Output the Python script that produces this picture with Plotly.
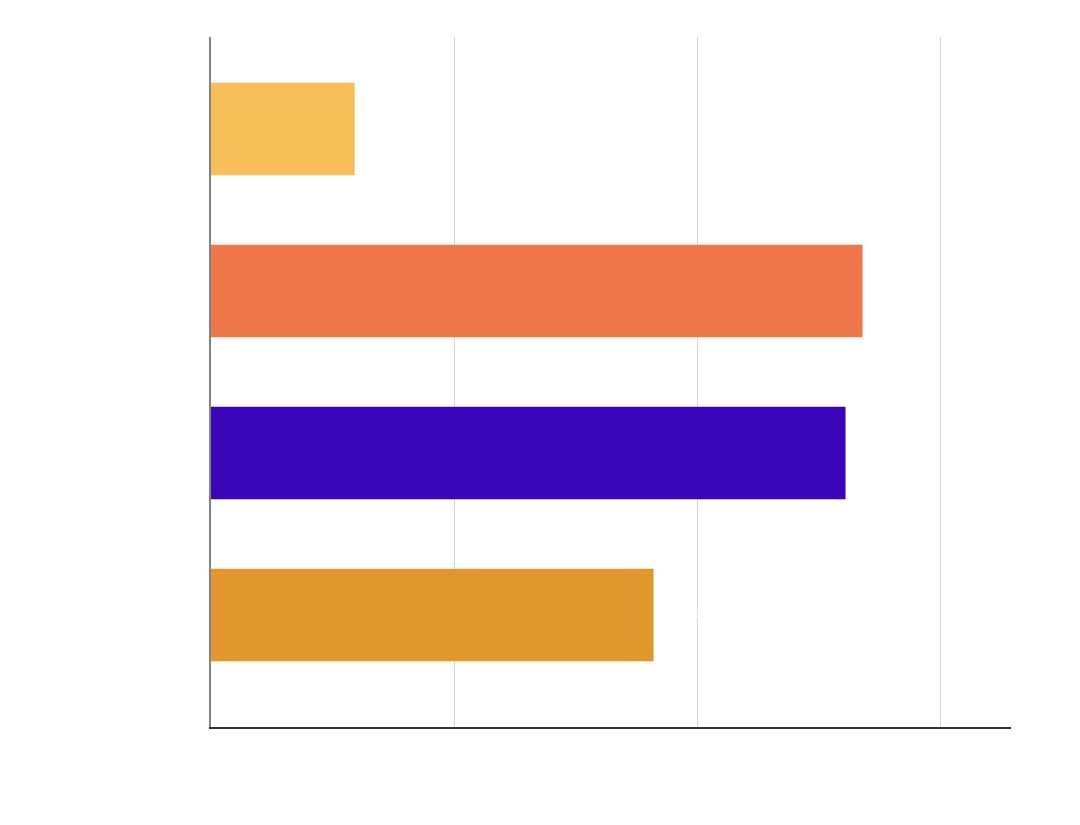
import plotly.graph_objects as go

# categories listed bottom to top
categories = ["D", "C", "B", "A"]
values = [18.2, 26.1, 26.8, 5.9]
colors = ["#E2962E", "#3B06B8", "#EE774A", "#F7BE5A"]
edge_colors = ["rgba(226,150,46,0.5)", "rgba(59,6,184,0.5)",
               "rgba(238,119,74,0.5)", "rgba(247,190,90,0.5)"]

fig = go.Figure(
    go.Bar(
        x=values,
        y=categories,
        orientation="h",
        marker=dict(color=colors, line=dict(color=edge_colors, width=1)),
        text=[f"{v:.1f}%" for v in values],
        textposition="outside",
        textfont=dict(color="white", size=18, family="Roboto"),
        cliponaxis=False,
    )
)

fig.update_layout(
    width=1080,
    height=825,
    margin=dict(l=203, r=77, t=29, b=106),
    plot_bgcolor="white",
    paper_bgcolor="white",
    bargap=0.432,
    showlegend=False,
    font=dict(family="Roboto", color="white", size=14),
)
fig.update_xaxes(
    range=[0, 32.92],
    dtick=10,
    showgrid=True,
    gridcolor="#d4d4d4",
    gridwidth=1,
    zeroline=False,
    showline=True,
    linecolor="#333333",
    linewidth=2,
    tickfont=dict(color="white"),
)
fig.update_yaxes(
    range=[-0.691, 3.568],
    showgrid=False,
    zeroline=False,
    showline=True,
    linecolor="rgba(90,90,90,0.75)",
    linewidth=1.5,
    layer="above traces",
    tickfont=dict(color="white"),
)

fig.write_html("out.html")
